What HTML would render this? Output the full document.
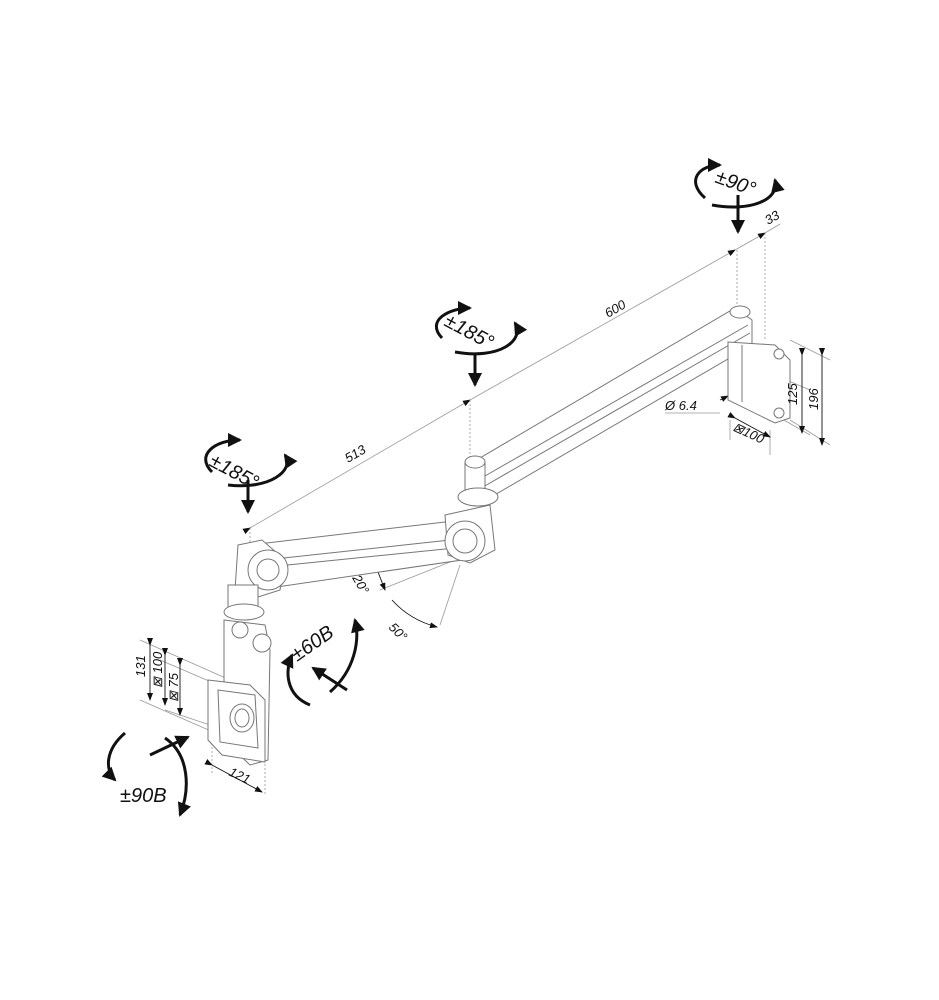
<!DOCTYPE html>
<html><head><meta charset="utf-8"><style>
html,body{margin:0;padding:0;background:#fff}
svg{display:block}
text{font-family:"Liberation Sans",sans-serif;font-style:italic;fill:#111}
</style></head><body>
<svg width="939" height="1000" viewBox="0 0 939 1000" xmlns="http://www.w3.org/2000/svg">
<defs>
<marker id="ah" markerWidth="8" markerHeight="8" refX="7" refY="4" orient="auto" markerUnits="userSpaceOnUse"><path d="M0,1 L8,4 L0,7z" fill="#111"/></marker>
<marker id="bh" markerWidth="16" markerHeight="16" refX="12" refY="8" orient="auto" markerUnits="userSpaceOnUse"><path d="M0,1 L14,8 L0,15z" fill="#111"/></marker>
</defs>

<g stroke="#999" stroke-width="0.8" fill="none">
<line x1="250" y1="528" x2="470" y2="400" marker-end="url(#ah)" marker-start="url(#ah)"/>
<line x1="470" y1="400" x2="735" y2="250" marker-end="url(#ah)"/>
<line x1="735" y1="250" x2="765" y2="233" marker-end="url(#ah)"/>
<line x1="765" y1="233" x2="780" y2="224"/>
<g stroke-dasharray="2,2">
<line x1="470" y1="400" x2="470" y2="460"/>
<line x1="737" y1="250" x2="737" y2="305"/>
<line x1="765" y1="233" x2="765" y2="340"/>
<line x1="250" y1="528" x2="250" y2="545"/>
<line x1="212" y1="735" x2="212" y2="775"/>
<line x1="265" y1="760" x2="265" y2="795"/>
</g>
<line x1="790" y1="340" x2="830" y2="360"/>
<line x1="790" y1="420" x2="830" y2="445"/>
<line x1="775" y1="375" x2="810" y2="390"/>
<line x1="775" y1="415" x2="810" y2="435"/>
<line x1="730" y1="420" x2="730" y2="440"/>
<line x1="770" y1="430" x2="770" y2="455"/>
<line x1="665" y1="413" x2="720" y2="413"/>
<line x1="455" y1="560" x2="380" y2="590"/>
<line x1="460" y1="565" x2="440" y2="625"/>
<line x1="140" y1="640" x2="230" y2="680"/>
<line x1="140" y1="700" x2="220" y2="735"/>
<line x1="160" y1="660" x2="230" y2="690"/>
<line x1="165" y1="710" x2="225" y2="730"/>
</g>
<g stroke="#111" stroke-width="0.9" fill="none">
<line x1="735" y1="418" x2="770" y2="437" marker-end="url(#ah)" marker-start="url(#ah)"/>
<line x1="802" y1="355" x2="802" y2="433" marker-end="url(#ah)" marker-start="url(#ah)"/>
<line x1="822" y1="355" x2="822" y2="445" marker-end="url(#ah)" marker-start="url(#ah)"/>
<line x1="212" y1="765" x2="262" y2="792" marker-end="url(#ah)" marker-start="url(#ah)"/>
<line x1="150" y1="645" x2="150" y2="700" marker-end="url(#ah)" marker-start="url(#ah)"/>
<line x1="165" y1="655" x2="165" y2="705" marker-end="url(#ah)" marker-start="url(#ah)"/>
<line x1="180" y1="665" x2="180" y2="715" marker-end="url(#ah)" marker-start="url(#ah)"/>
<path d="M378,572 L385,590" marker-end="url(#ah)"/>
<path d="M392,600 Q410,620 437,627" marker-end="url(#ah)"/>
<path d="M720,400 L728,396" marker-end="url(#ah)"/>
</g>

<g stroke="#777" stroke-width="1" fill="#fff">
<path d="M468,465 L735,308 L752,320 L752,345 L486,500 L470,495z"/>
<line x1="478" y1="480" x2="748" y2="325" fill="none"/>
<line x1="483" y1="487" x2="750" y2="333" fill="none"/>
<path d="M728,342 L775,345 L790,360 L790,418 L775,423 L728,400z"/>
<line x1="742" y1="345" x2="742" y2="402"/>
<circle cx="779" cy="354" r="5"/><circle cx="779" cy="413" r="5"/>
<ellipse cx="740" cy="312" rx="10" ry="6"/>
<rect x="465" y="462" width="20" height="30"/>
<ellipse cx="475" cy="462" rx="10" ry="6"/>
<ellipse cx="478" cy="497" rx="20" ry="9"/>
<path d="M250,545 L445,522 L465,530 L462,560 L270,588 L255,575z"/>
<line x1="265" y1="560" x2="450" y2="540" fill="none"/>
<line x1="268" y1="567" x2="455" y2="548" fill="none"/>
<path d="M445,515 L490,505 L495,550 L470,563 L448,555z"/>
<circle cx="465" cy="541" r="20"/><circle cx="465" cy="541" r="12"/>
<path d="M238,545 L262,540 L285,560 L280,590 L255,598 L235,590z"/>
<circle cx="268" cy="570" r="20"/><circle cx="268" cy="570" r="11"/>
<rect x="228" y="585" width="30" height="25"/>
<ellipse cx="244" cy="612" rx="20" ry="8"/>
<path d="M224,620 L265,625 L270,650 L268,760 L250,765 L224,740z"/>
<circle cx="262" cy="643" r="9"/>
<circle cx="240" cy="630" r="8"/>
<path d="M208,680 L250,685 L265,700 L265,762 L222,755 L208,740z"/>
<path d="M218,690 L255,695 L258,748 L220,742z"/>
<ellipse cx="242" cy="718" rx="12" ry="14"/>
<ellipse cx="242" cy="718" rx="7" ry="9"/>
</g>

<g stroke="#111" stroke-width="3" fill="none">
<path d="M248,480 L248,512" marker-end="url(#bh)"/>
<path d="M475,355 L475,385" marker-end="url(#bh)"/>
<path d="M738,195 L738,232" marker-end="url(#bh)"/>
<path d="M212,472 C195,455 215,440 240,440" marker-end="url(#bh)"/>
<path d="M228,485 C270,490 295,470 285,455" marker-end="url(#bh)"/>
<path d="M442,338 C425,320 450,308 470,308" marker-end="url(#bh)"/>
<path d="M455,352 C500,360 525,340 515,323" marker-end="url(#bh)"/>
<path d="M705,198 C685,180 700,165 720,165" marker-end="url(#bh)"/>
<path d="M712,205 C750,212 780,200 775,180" marker-end="url(#bh)"/>
<path d="M310,705 C285,695 285,670 292,655" marker-end="url(#bh)"/>
<path d="M330,692 C355,670 360,640 355,620" marker-end="url(#bh)"/>
<path d="M347,690 L313,668" marker-end="url(#bh)"/>
<path d="M150,755 L188,737" marker-end="url(#bh)"/>
<path d="M125,733 C105,750 105,770 115,780" marker-end="url(#bh)"/>
<path d="M165,738 C190,755 190,790 180,815" marker-end="url(#bh)"/>
</g>

<g font-size="20">
<text transform="translate(208,465) rotate(28)">±185°</text>
<text transform="translate(443,325) rotate(28)">±185°</text>
<text transform="translate(714,182) rotate(20)">±90°</text>
<text transform="translate(297,662) rotate(-35)">±60B</text>
<text x="120" y="802" font-style="normal">±90B</text>
</g>
<g font-size="13">
<text transform="translate(348,463) rotate(-30)">513</text>
<text transform="translate(608,318) rotate(-30)">600</text>
<text transform="translate(768,225) rotate(-30)">33</text>
<text transform="translate(352,578) rotate(60)">20°</text>
<text transform="translate(388,628) rotate(45)">50°</text>
<text x="665" y="410" font-style="normal">Ø 6.4</text>
<text transform="translate(732,430) rotate(25)" font-style="normal">⊠100</text>
<text transform="translate(797,405) rotate(-90)">125</text>
<text transform="translate(818,410) rotate(-90)">196</text>
<text transform="translate(228,775) rotate(25)" font-style="normal">121</text>
<text transform="translate(145,677) rotate(-90)">131</text>
<text transform="translate(162,688) rotate(-90)">⊠ 100</text>
<text transform="translate(178,702) rotate(-90)">⊠ 75</text>
</g>
</svg>
</body></html>
